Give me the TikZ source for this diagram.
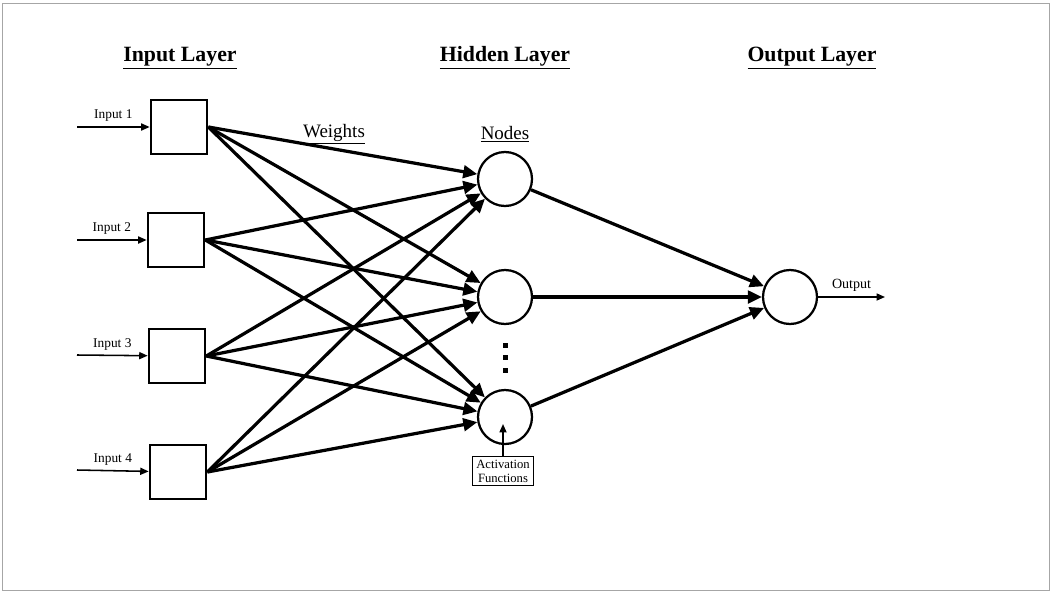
\documentclass[tikz,border=0pt]{standalone}
\usepackage{fontspec}
\setmainfont{Liberation Serif}
\usetikzlibrary{arrows.meta}

\tikzset{
    inbox/.style={draw, line width=1.9pt, minimum width=56*0.025cm, minimum height=54*0.025cm, inner sep=0pt},
    neuron/.style={draw, circle, line width=1.6pt, minimum size=54*0.025cm, inner sep=0pt},
    weight/.style={line width=2.3pt, -{Triangle[length=10pt,width=9pt]}},
    feed/.style={line width=1.1pt, -{Triangle[length=6pt,width=5pt]}},
    heading/.style={font=\fontsize{15.5}{18}\selectfont\bfseries},
    label/.style={font=\fontsize{13.5}{16}\selectfont},
    small/.style={font=\fontsize{9.5}{11}\selectfont}
}

\begin{document}
\begin{tikzpicture}[x=0.025cm, y=-0.025cm]
            \useasboundingbox (0,0) rectangle (1051,592);
            \draw[gray!70, line width=0.6pt] (2,3) rectangle (1049,590);

            \node[heading] (tin) at (180,58) {\underline{Input Layer}};
            \node[heading] (thid) at (505,58) {\underline{Hidden Layer}};
            \node[heading] (tout) at (812,58) {\underline{Output Layer}};
            \node[label] (tw) at (334,134) {\underline{Weights}};
            \node[label] (tn) at (505,134) {\underline{Nodes}};

            \node[inbox] (in1) at (179,127) {};
            \node[inbox] (in2) at (176,240) {};
            \node[inbox] (in3) at (177,356) {};
            \node[inbox] (in4) at (178,472) {};

            \coordinate (s1) at (77,127);
            \coordinate (s2) at (77,240);
            \coordinate (s3) at (77,355);
            \coordinate (s4) at (77,470);
            \draw[feed] (s1) to node[above, small] {Input 1} (in1);
            \draw[feed] (s2) to node[above, small] {Input 2} (in2);
            \draw[feed] (s3) to node[above, small] {Input 3} (in3);
            \draw[feed] (s4) to node[above, small] {Input 4} (in4);

            \node[neuron] (h1) at (505,179) {};
            \node[neuron] (h2) at (505,297) {};
            \node[neuron] (h3) at (505,417) {};
            \node[neuron] (out) at (790,297) {};

            \node[fill, minimum size=5*0.025cm, inner sep=0pt] (d1) at (505,345) {};
            \node[fill, minimum size=5*0.025cm, inner sep=0pt] (d2) at (505,357) {};
            \node[fill, minimum size=5*0.025cm, inner sep=0pt] (d3) at (505,370) {};

            \draw[weight] (in1.east) to (h1);
            \draw[weight] (in1.east) to (h2);
            \draw[weight] (in1.east) to (h3);
            \draw[weight] (in2.east) to (h1);
            \draw[weight] (in2.east) to (h2);
            \draw[weight] (in2.east) to (h3);
            \draw[weight] (in3.east) to (h1);
            \draw[weight] (in3.east) to (h2);
            \draw[weight] (in3.east) to (h3);
            \draw[weight] (in4.east) to (h1);
            \draw[weight] (in4.east) to (h2);
            \draw[weight] (in4.east) to (h3);

            \draw[weight] (h1) to (out);
            \draw[weight] (h2) to (out);
            \draw[weight] (h3) to (out);

            \coordinate (o) at (885,297);
            \draw[feed] (out) to node[above, font=\fontsize{10}{12}\selectfont] {Output} (o);

            \node[draw, line width=0.8pt, align=center, inner sep=2.5pt, font=\fontsize{9}{10}\selectfont] (act) at (503,471) {Activation\\Functions};
            \coordinate (ah) at (503,424);
            \draw[feed] (act) to (ah);
        \end{tikzpicture}
\end{document}
